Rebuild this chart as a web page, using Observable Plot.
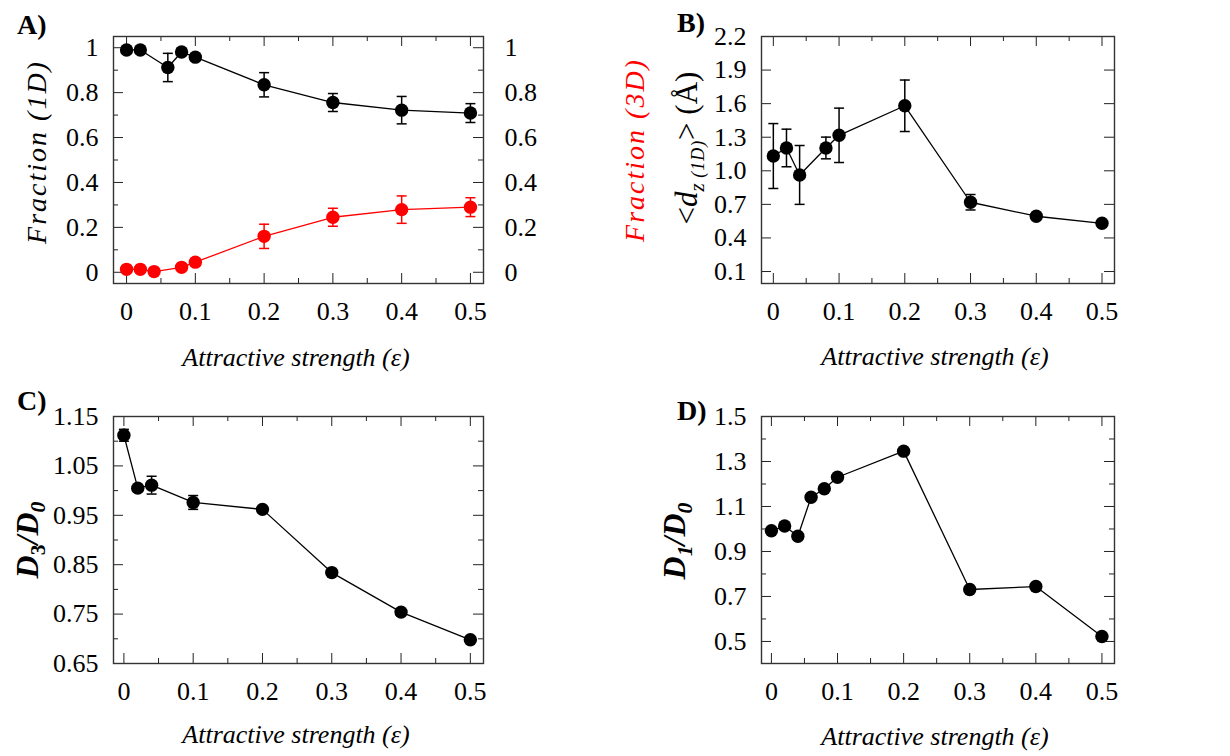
<!DOCTYPE html>
<html><head><meta charset="utf-8">
<script src="https://cdn.jsdelivr.net/npm/d3@7"></script>
<script src="https://cdn.jsdelivr.net/npm/@observablehq/plot@0.6"></script>
<style>
body{margin:0;background:#fff;}
#wrap{position:relative;width:1230px;height:756px;overflow:hidden;font-family:'Liberation Serif','Tinos','Times New Roman','DejaVu Serif',serif;color:#000;background:#fff;}
.p{position:absolute;}
.lab{position:absolute;white-space:nowrap;line-height:1;}
.rot{transform:translate(-50%,-50%) rotate(-90deg);}
.ctr{transform:translateX(-50%);}
.pl{font-weight:bold;font-size:28px;}
.xl{font-style:italic;font-size:26px;}
.yl{font-size:28px;}
sub{font-size:0.68em;vertical-align:-0.32em;line-height:0;}
</style></head>
<body>
<div id="wrap">
  <div class="p" id="pA" style="left:0;top:0"></div>
  <div class="p" id="pB" style="left:640px;top:0"></div>
  <div class="p" id="pC" style="left:0;top:378px"></div>
  <div class="p" id="pD" style="left:640px;top:378px"></div>

  <span class="lab pl" style="left:17px;top:11px">A)</span>
  <span class="lab pl" style="left:677px;top:9px">B)</span>
  <span class="lab pl" style="left:17px;top:387px">C)</span>
  <span class="lab pl" style="left:677px;top:397px">D)</span>

  <span class="lab yl rot" style="left:37px;top:152px;font-style:italic;letter-spacing:2px">Fraction (1D)</span>
  <span class="lab yl rot" style="left:635px;top:150px;font-style:italic;letter-spacing:2px;color:#f00">Fraction (3D)</span>
  <span class="lab yl rot" style="left:686px;top:148px;font-size:31px">&lt;<i>d</i><sub><i>z</i><i style="font-size:0.85em;letter-spacing:1px"> (1D)</i></sub>&gt; (Å)</span>
  <span class="lab yl rot" style="left:27px;top:540px;font-weight:bold;font-size:32px"><i>D</i><sub>3</sub><i>/D</i><sub><i>0</i></sub></span>
  <span class="lab yl rot" style="left:674px;top:541px;font-weight:bold;font-size:32px"><i>D</i><sub><i>1</i></sub><i>/D</i><sub><i>0</i></sub></span>

  <span class="lab xl ctr" style="left:296px;top:345px">Attractive strength (ε)</span>
  <span class="lab xl ctr" style="left:935px;top:344px">Attractive strength (ε)</span>
  <span class="lab xl ctr" style="left:296px;top:722px">Attractive strength (ε)</span>
  <span class="lab xl ctr" style="left:935px;top:724px">Attractive strength (ε)</span>
</div>
<script>
// ---- data ----
const xMajor = [0, 0.1, 0.2, 0.3, 0.4, 0.5];
const xMinor = [0.05, 0.15, 0.25, 0.35, 0.45];
const xLabels = ["0", "0.1", "0.2", "0.3", "0.4", "0.5"];

// Panel A
const epsA1 = [0, 0.02, 0.06, 0.08, 0.1, 0.2, 0.3, 0.4, 0.5];
const frac1D = [0.99, 0.99, 0.912, 0.981, 0.958, 0.835, 0.756, 0.722, 0.709];
const frac1DErr = [0.008, 0.008, 0.063, 0.01, 0.015, 0.054, 0.04, 0.061, 0.042];
const epsA3 = [0, 0.02, 0.04, 0.08, 0.1, 0.2, 0.3, 0.4, 0.5];
const frac3D = [0.013, 0.013, 0.003, 0.022, 0.045, 0.16, 0.245, 0.279, 0.29];
const frac3DErr = [0.008, 0.008, 0.008, 0.01, 0.015, 0.054, 0.04, 0.061, 0.042];
const yTicksA = [0, 0.2, 0.4, 0.6, 0.8, 1];
const yMinorA = [0.1, 0.3, 0.5, 0.7, 0.9];
const yLabelsA = ["0", "0.2", "0.4", "0.6", "0.8", "1"];

// Panel B
const epsB = [0, 0.02, 0.04, 0.08, 0.1, 0.2, 0.3, 0.4, 0.5];
const dz1D = [1.132, 1.204, 0.963, 1.204, 1.317, 1.581, 0.719, 0.594, 0.531];
const dz1DErr = [0.29, 0.168, 0.263, 0.097, 0.243, 0.23, 0.069, 0.02, 0.02];
const yTicksB = [0.1, 0.4, 0.7, 1.0, 1.3, 1.6, 1.9, 2.2];
const yLabelsB = ["0.1", "0.4", "0.7", "1.0", "1.3", "1.6", "1.9", "2.2"];

// Panel C
const epsC = [0, 0.02, 0.04, 0.1, 0.2, 0.3, 0.4, 0.5];
const ratioD3 = [1.112, 1.005, 1.011, 0.976, 0.962, 0.834, 0.754, 0.698];
const ratioD3Err = [0.012, 0.004, 0.018, 0.014, 0.004, 0.004, 0.004, 0.004];
const yTicksC = [0.65, 0.75, 0.85, 0.95, 1.05, 1.15];
const yMinorC = [0.7, 0.8, 0.9, 1.0, 1.1];
const yLabelsC = ["0.65", "0.75", "0.85", "0.95", "1.05", "1.15"];

// Panel D
const epsD = [0, 0.02, 0.04, 0.06, 0.08, 0.1, 0.2, 0.3, 0.4, 0.5];
const ratioD1 = [0.992, 1.013, 0.968, 1.141, 1.179, 1.23, 1.346, 0.731, 0.744, 0.522];
const yTicksD = [0.5, 0.7, 0.9, 1.1, 1.3, 1.5];
const yMinorD = [0.6, 0.8, 1.0, 1.2, 1.4];
const yLabelsD = ["0.5", "0.7", "0.9", "1.1", "1.3", "1.5"];

// ---- drawing ----
const capSymbol = {draw(ctx) { ctx.moveTo(-5, 0); ctx.lineTo(5, 0); }};
const AX = "#222";
const FONT = "'Liberation Serif','Tinos','Times New Roman','DejaVu Serif',serif";
const TICKFS = 26;

function panel(el, cfg) {
  const {width, height, fl, fr, ft, fb, xDomain, yDomain, yTicks, yMinor, yLabels, series, rightAxis} = cfg;
  const fw = fr - fl, fh = fb - ft;
  const TL = 10, TS = 5;
  const xf = d => xLabels[xMajor.indexOf(d)];
  const yf = d => yLabels[yTicks.indexOf(d)];
  const marks = [];
  marks.push(Plot.tickX(xMajor, {x: d => d, insetTop: fh - TL, stroke: AX}));
  marks.push(Plot.tickX(xMajor, {x: d => d, insetBottom: fh - TL, stroke: AX}));
  marks.push(Plot.tickX(xMinor, {x: d => d, insetTop: fh - TS, stroke: AX}));
  marks.push(Plot.tickX(xMinor, {x: d => d, insetBottom: fh - TS, stroke: AX}));
  marks.push(Plot.tickY(yTicks, {y: d => d, insetRight: fw - TL, stroke: AX}));
  marks.push(Plot.tickY(yTicks, {y: d => d, insetLeft: fw - TL, stroke: AX}));
  if (yMinor) {
    marks.push(Plot.tickY(yMinor, {y: d => d, insetRight: fw - TS, stroke: AX}));
    marks.push(Plot.tickY(yMinor, {y: d => d, insetLeft: fw - TS, stroke: AX}));
  }
  marks.push(Plot.axisX({ticks: xMajor, tickSize: 0, tickPadding: 18, tickFormat: xf, label: null, fontSize: TICKFS, fontFamily: FONT}));
  marks.push(Plot.axisY({ticks: yTicks, tickSize: 0, tickPadding: 15, tickFormat: yf, label: null, fontSize: TICKFS, fontFamily: FONT}));
  if (rightAxis) marks.push(Plot.axisY({ticks: yTicks, anchor: "right", tickSize: 0, tickPadding: 21, tickFormat: yf, label: null, fontSize: TICKFS, fontFamily: FONT, textAnchor: "start"}));
  for (const s of series) {
    const rows = s.x.map((v, i) => ({x: v, y: s.y[i], e: s.e ? s.e[i] : 0}));
    marks.push(Plot.line(rows, {x: "x", y: "y", stroke: s.color, strokeWidth: 1.3}));
    if (s.e) {
      marks.push(Plot.ruleX(rows, {x: "x", y1: d => d.y - d.e, y2: d => d.y + d.e, stroke: s.color, strokeWidth: 1.5}));
      marks.push(Plot.dot(rows, {x: "x", y: d => d.y + d.e, symbol: capSymbol, r: 5, fill: "none", stroke: s.color, strokeWidth: 1.5}));
      marks.push(Plot.dot(rows, {x: "x", y: d => d.y - d.e, symbol: capSymbol, r: 5, fill: "none", stroke: s.color, strokeWidth: 1.5}));
    }
    marks.push(Plot.dot(rows, {x: "x", y: "y", r: 6.7, fill: s.color, stroke: "none"}));
  }
  marks.push(Plot.frame({stroke: "#333", strokeWidth: 1.4}));
  const chart = Plot.plot({
    width, height,
    marginLeft: fl, marginRight: width - fr, marginTop: ft, marginBottom: height - fb,
    x: {domain: xDomain},
    y: {domain: yDomain},
    style: {fontFamily: FONT, fontSize: TICKFS + "px", color: "#000", background: "transparent", overflow: "visible"},
    marks
  });
  document.getElementById(el).appendChild(chart);
}

panel("pA", {
  width: 640, height: 378, fl: 113, fr: 483, ft: 36, fb: 283,
  xDomain: [-0.019, 0.519], yDomain: [-0.05, 1.05],
  yTicks: yTicksA, yMinor: yMinorA, yLabels: yLabelsA, rightAxis: true,
  series: [
    {x: epsA1, y: frac1D, e: frac1DErr, color: "#000"},
    {x: epsA3, y: frac3D, e: frac3DErr, color: "#f00"}
  ]
});
panel("pB", {
  width: 590, height: 378, fl: 121, fr: 474, ft: 36, fb: 283,
  xDomain: [-0.018, 0.519], yDomain: [-0.007, 2.2],
  yTicks: yTicksB, yMinor: null, yLabels: yLabelsB,
  series: [{x: epsB, y: dz1D, e: dz1DErr, color: "#000"}]
});
panel("pC", {
  width: 640, height: 378, fl: 113, fr: 483, ft: 38, fb: 285,
  xDomain: [-0.015, 0.519], yDomain: [0.65, 1.15],
  yTicks: yTicksC, yMinor: yMinorC, yLabels: yLabelsC,
  series: [{x: epsC, y: ratioD3, e: ratioD3Err, color: "#000"}]
});
panel("pD", {
  width: 590, height: 378, fl: 121, fr: 474, ft: 38, fb: 285,
  xDomain: [-0.015, 0.519], yDomain: [0.402, 1.5],
  yTicks: yTicksD, yMinor: yMinorD, yLabels: yLabelsD,
  series: [{x: epsD, y: ratioD1, color: "#000"}]
});
</script>
</body></html>
